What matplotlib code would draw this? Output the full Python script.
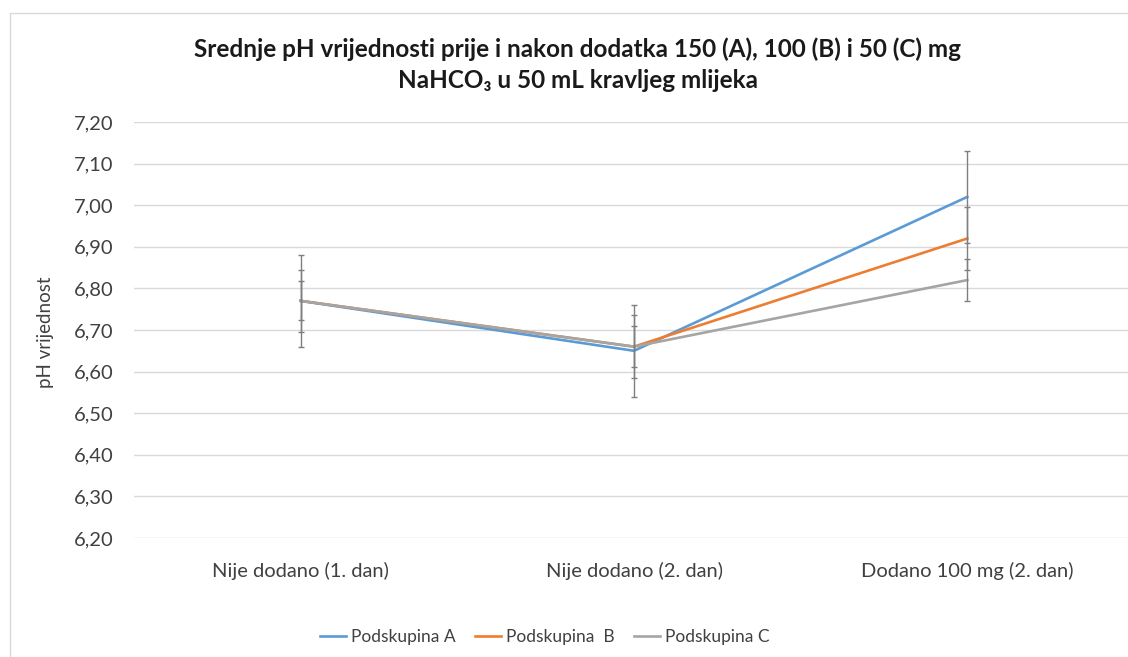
import matplotlib
matplotlib.use('Agg')
import matplotlib.pyplot as plt
from matplotlib.patches import Rectangle
from matplotlib.ticker import FuncFormatter

plt.rcParams['font.family'] = ['Lato', 'DejaVu Sans']

categories = ['Nije dodano (1. dan)', 'Nije dodano (2. dan)', 'Dodano 100 mg (2. dan)']
series_names = ['Podskupina A', 'Podskupina  B', 'Podskupina C']
ph_a = [6.77, 6.65, 7.02]
ph_b = [6.77, 6.66, 6.92]
ph_c = [6.77, 6.66, 6.82]
err_a = [0.11, 0.11, 0.11]
err_b = [0.075, 0.075, 0.075]
err_c = [0.047, 0.05, 0.05]
colors = ['#5B9BD5', '#ED7D31', '#A5A5A5']

fig = plt.figure(figsize=(11.28, 6.57), dpi=100)
fig.patches.append(Rectangle((10 / 1128, -0.1), 1.2, 1 - 13 / 657 + 0.1,
                             transform=fig.transFigure, fill=False,
                             edgecolor='#D9D9D9', linewidth=1))

W, H = 1128, 657
ax = fig.add_axes([134 / W, 1 - 538 / H, 1000 / W, (538 - 122) / H])
x = list(range(len(categories)))

lines = []
for vals, errs, col, name in zip([ph_a, ph_b, ph_c], [err_a, err_b, err_c], colors, series_names):
    ln, = ax.plot(x, vals, color=col, linewidth=1.9, label=name, zorder=3)
    ax.errorbar(x, vals, yerr=errs, fmt='none', ecolor='#7F7F7F', elinewidth=1,
                capsize=2.5, capthick=1, zorder=4)
    lines.append(ln)

ax.set_xlim(-0.5, 2.5)
ax.set_ylim(6.20, 7.20)
ax.set_yticks([6.2 + 0.1 * i for i in range(11)])
ax.yaxis.set_major_formatter(FuncFormatter(lambda v, p: f'{v:.2f}'.replace('.', ',')))
ax.set_xticks(x)
ax.set_xticklabels(categories)
ax.grid(axis='y', color='#D9D9D9', linewidth=1)
ax.set_axisbelow(True)
for s in ax.spines.values():
    s.set_visible(False)
ax.tick_params(axis='both', length=0, labelsize=14.5, colors='#404040')
ax.tick_params(axis='y', pad=15)
ax.tick_params(axis='x', pad=17)

fig.text(45 / W, 1 - 332 / H, 'pH vrijednost', rotation=90, ha='center', va='center',
         fontsize=13.5, color='#404040')

fig.text(578 / W, 1 - 49 / H, 'Srednje pH vrijednosti prije i nakon dodatka 150 (A), 100 (B) i 50 (C) mg',
         ha='center', va='center', fontsize=17.5, fontweight='bold', color='#1a1a1a')
fig.text(578 / W, 1 - 80 / H, 'NaHCO\u2083 u 50 mL kravljeg mlijeka',
         ha='center', va='center', fontsize=17.5, fontweight='bold', color='#1a1a1a')

fig.legend(handles=lines, loc='center', bbox_to_anchor=(545 / W, 1 - 637 / H), ncol=3,
           frameon=False, fontsize=12.5, handlelength=1.5, handletextpad=0.3,
           columnspacing=1.1, labelcolor='#404040')

fig.savefig('out.png', dpi=100)
